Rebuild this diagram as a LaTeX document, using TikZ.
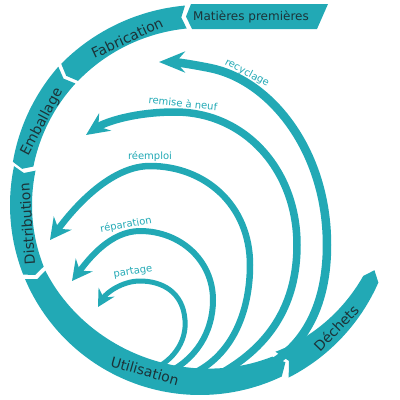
\documentclass[tikz,border=0pt]{standalone}
\usepackage{fontspec}
\setmainfont{DejaVu Sans}
\usetikzlibrary{arrows.meta}
\definecolor{teal1}{HTML}{22A9B5}
\definecolor{ink}{HTML}{1C3338}
% T L roT roL riT riL dT dL
\newcommand\bandseg[8]{%
  \fill[teal1] plot[domain=#1:#2,samples=50] (\x:{#3+(\x-(#1))/((#2)-(#1))*((#4)-(#3))})
  -- ({#2-#8}:{(#4+#6)/2})
  -- plot[domain=#2:#1,samples=50] (\x:{#5+(\x-(#1))/((#2)-(#1))*((#6)-(#5))})
  -- ({#1-#7}:{(#3+#5)/2}) -- cycle;}
\begin{document}
\begin{tikzpicture}[x=1pt,y=-1pt,
  bandlabel/.style={text=ink, font=\fontsize{14}{14}\selectfont, inner sep=0pt},
  arrowlabel/.style={text=teal1, font=\fontsize{10}{10}\selectfont, inner sep=0pt},
  loopline/.style={draw=teal1}]
\useasboundingbox (0,0) rectangle (400,400);

% outer band
\fill[teal1] (191,4) -- (186,16.5) -- (192,29) -- (317,29) -- (328,4) -- cycle;
\begin{scope}[shift={(200,205)}]
  \bandseg{265.7}{225.5}{200}{198}{177}{174}{1.4}{1.5}
  \bandseg{224.3}{193}{198}{192}{174}{171}{1.5}{1.5}
  \bandseg{191.8}{158.5}{190}{190}{168}{168}{1.5}{1.5}
  \fill[teal1] plot[domain=157:64.5,samples=80] (\x:{190})
    -- ({61.5}:{179})
    -- plot[domain=64.5:157,samples=80] (\x:{168-6*sin((157-\x)/92.5*180)})
    -- ({155.5}:{179}) -- cycle;
  \bandseg{62.8}{23.5}{194}{194.5}{165}{178}{2.5}{3}
\end{scope}

% loops
\coordinate (s1) at (146,372); \coordinate (e1) at (98,307);
\coordinate (s2) at (165,374); \coordinate (e2) at (72,281);
\coordinate (s3) at (192,374); \coordinate (e3) at (50,240);
\coordinate (s4) at (220,374); \coordinate (e4) at (86,135);
\coordinate (s5) at (255,372); \coordinate (e5) at (159,62);

\draw[loopline, line width=5pt, -{Stealth[length=17pt,width=18pt,inset=6pt]}]
  (s1) .. controls (172,364) and (187,342) .. (185,320)
  .. controls (183,292) and (162,281) .. (140,281)
  .. controls (122,281) and (106,293) .. (e1);
\draw[loopline, line width=6pt, -{Stealth[length=20pt,width=21pt,inset=7pt]}]
  (s2) .. controls (196,360) and (213,332) .. (213,300)
  .. controls (213,260) and (180,231) .. (140,231)
  .. controls (110,231) and (88,260) .. (e2);
\draw[loopline, line width=6.5pt, -{Stealth[length=21pt,width=22pt,inset=7pt]}]
  (s3) .. controls (232,356) and (250,312) .. (250,265)
  .. controls (250,205) and (205,166) .. (150,166)
  .. controls (105,166) and (65,220) .. (e3);
\draw[loopline, line width=7.5pt, -{Stealth[length=23pt,width=21pt,inset=8pt]}]
  (s4) .. controls (272,345) and (297,302) .. (297,245)
  .. controls (297,170) and (245,112) .. (175,112)
  .. controls (135,112) and (105,122) .. (e4);
\draw[loopline, line width=8.5pt, -{Stealth[length=26pt,width=21pt,inset=9pt]}]
  (s5) .. controls (308,350) and (327,300) .. (327,245)
  .. controls (327,150) and (270,80) .. (210,68)
  .. controls (190,64) and (175,62) .. (e5);

% band labels
\node[bandlabel, font=\fontsize{12}{12}\selectfont] (mat) at (251,17) {Matières premières};
\node[bandlabel, rotate=25] (fab) at (127,38) {Fabrication};
\node[bandlabel, rotate=62] (emb) at (42,122) {Emballage};
\node[bandlabel, rotate=94] (dist) at (27,224) {Distribution};
\node[bandlabel, rotate=-16] (util) at (145,371) {Utilisation};
\node[bandlabel, rotate=46] (dech) at (336,328) {Déchets};

% arrow labels
\node[arrowlabel, rotate=-28] (lrec) at (247,73) {recyclage};
\node[arrowlabel, rotate=-6] (lrem) at (183,103) {remise à neuf};
\node[arrowlabel] (lree) at (150,157) {réemploi};
\node[arrowlabel, rotate=10] (lrep) at (126,225) {réparation};
\node[arrowlabel, rotate=10] (lpar) at (133,272) {partage};
\end{tikzpicture}
\end{document}
